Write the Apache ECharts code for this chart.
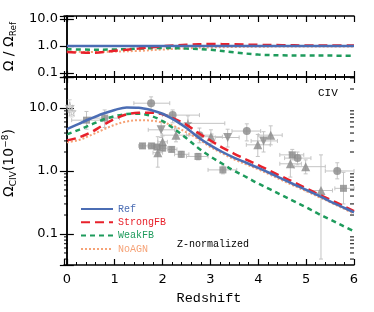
<!DOCTYPE html>
<html><head><meta charset="utf-8">
<script src="https://cdn.jsdelivr.net/npm/echarts@6/dist/echarts.min.js"></script>
<style>html,body{margin:0;padding:0;background:#fff}#c{width:374px;height:312px}</style>
</head><body><div id="c"></div>
<script>
// ---- model curves (main panel) ----
const zGrid = [0,0.25,0.5,0.75,1,1.25,1.5,1.75,2,2.25,2.5,2.75,3,3.25,3.5,3.75,4,4.25,4.5,4.75,5,5.25,5.5,5.75,6];
const refVals    = [4.6,5.6,6.8,8.1,9.3,10.2,10.1,9.3,8.1,6.4,4.8,3.4,2.55,2.0,1.62,1.35,1.12,0.92,0.75,0.61,0.5,0.41,0.33,0.27,0.22];
const strongVals = [3.05,3.4,4.1,5.3,6.7,7.9,8.4,8.4,7.9,6.7,5.4,4.0,3.05,2.35,1.87,1.52,1.24,1.0,0.81,0.66,0.53,0.43,0.35,0.285,0.23];
const weakVals   = [3.8,4.5,5.4,6.5,7.4,8.0,8.1,7.5,6.2,4.6,3.3,2.3,1.7,1.3,1.0,0.8,0.63,0.51,0.41,0.33,0.265,0.21,0.17,0.137,0.11];
const noagnVals  = [2.85,3.1,3.7,4.5,5.4,6.1,6.4,6.3,5.9,5.1,4.1,3.2,2.4,1.9,1.52,1.27,1.06,0.87,0.71,0.58,0.48,0.39,0.32,0.26,0.21];
// ---- ratio curves (top panel) ----
const ratioZ      = [0,0.5,1,1.5,2,2.5,3,3.5,4,4.5,5,5.5,6];
const ratioRef    = [1,1,1,1,1,1,1,1,1,1,1,1,1];
const ratioStrong = [0.6,0.56,0.66,0.8,0.98,1.1,1.18,1.15,1.1,1.07,1.05,1.05,1.05];
const ratioWeak   = [0.76,0.73,0.74,0.8,0.85,0.8,0.72,0.58,0.48,0.45,0.44,0.44,0.43];
const ratioNoAGN  = [0.62,0.6,0.62,0.66,0.74,0.82,0.88,0.92,0.94,0.95,0.95,0.95,0.95];
// ---- observations: [z, value, zLow, zHigh, vLow, vHigh] ----
const obsCircle = [
  [1.76,11.9,1.4,2.15,9.3,15],
  [2.21,7.7,2.0,2.77,5.8,9.3],
  [2.77,3.7,2.5,3.05,2.8,4.8],
  [3.76,4.3,3.45,4.05,3.0,5.6],
  [4.82,1.6,4.55,5.1,1.25,2.0],
  [5.65,1.0,5.4,6.0,0.75,1.35]
];
const obsSquare = [
  [0.41,6.4,0.1,0.75,4.6,8.8],
  [0.79,6.9,0.5,1.1,4.9,9.3],
  [1.58,2.5,1.5,1.7,2.3,2.7],
  [1.77,2.5,1.7,1.85,2.3,2.7],
  [1.88,2.4,1.8,1.95,2.2,2.6],
  [2.0,2.3,1.95,2.1,2.1,2.5],
  [2.19,2.2,2.1,2.3,2.0,2.4],
  [2.39,1.84,2.25,2.55,1.65,2.05],
  [2.74,1.7,2.5,2.95,1.5,1.9],
  [3.26,1.04,2.95,3.55,0.9,1.2],
  [4.71,1.8,4.45,4.95,1.5,2.2],
  [5.78,0.53,5.6,6.0,0.3,0.95]
];
const obsTriUp = [
  [1.9,1.95,1.8,2.0,1.15,3.5],
  [2.0,2.9,1.9,2.1,2.3,3.6],
  [2.28,3.7,2.0,2.55,2.9,4.8],
  [3.01,3.5,2.8,3.25,2.7,4.5],
  [3.99,2.6,3.75,4.25,1.7,3.8],
  [4.26,3.7,4.0,4.5,2.6,5.2],
  [4.67,1.3,4.45,4.9,0.8,2.0],
  [4.99,1.17,4.75,5.4,0.9,1.5],
  [5.31,0.49,5.0,5.55,0.04,1.8]
];
const obsTriDown = [
  [1.97,4.5,1.7,2.25,3.4,6.0],
  [3.36,3.4,3.1,3.6,2.4,4.6],
  [4.11,3.0,3.85,4.4,2.0,4.2]
];
const obsStar = [
  [2.53,5.7,2.35,3.3,4.4,7.5]
];
const obsOpenStar = [
  [0.06,10.5,0.0,0.12,8.5,13.5],
  [0.1,8.7,0.05,0.15,7.2,10.5]
];
// ---- axis decorations ----
const xTickLabels = ['0','1','2','3','4','5','6'];
const mainMinorTicks = [0.04,0.05,0.06,0.07,0.08,0.09,0.2,0.3,0.4,0.5,0.6,0.7,0.8,0.9,2,3,4,5,6,7,8,9,20,30];

const zip = (xs, ys) => xs.map((x, i) => [x, ys[i]]);
const C = {ref:'#4b6db4', strong:'#e8212b', weak:'#1e9b5c', noagn:'#f6a276'};
const sans = 'DejaVu Sans';
const mono = 'Liberation Mono';

function logLabel(v){
  const l = Math.log10(v);
  if (Math.abs(l - Math.round(l)) > 1e-6) return '';
  return v.toFixed(1);
}
function xLabel(v){
  const r = Math.round(v);
  if (Math.abs(v - r) > 1e-6) return '';
  return xTickLabels[r] !== undefined ? xTickLabels[r] : '';
}
const axLine = {show:true, lineStyle:{color:'#000', width:1.5}};
function xAx(grid, pos, labels){
  return {
    type:'value', gridIndex:grid, position:pos, min:-0.06, max:6, splitNumber:6,
    axisLine:axLine,
    axisTick:{show:true, inside:true, length:6, lineStyle:{color:'#000', width:1.2}},
    minorTick:{show:true, splitNumber:5, length:3, lineStyle:{color:'#000', width:1}},
    splitLine:{show:false},
    axisLabel:{show:labels, formatter:xLabel, fontFamily:sans, fontSize:13, color:'#000', margin:8}
  };
}
function yAx(grid, pos, labels, min, max, extra){
  return Object.assign({
    type:'log', logBase:10, gridIndex:grid, position:pos, min:min, max:max,
    axisLine:axLine,
    axisTick:{show:true, inside:true, length:7, lineStyle:{color:'#000', width:1.2}},
    splitLine:{show:false},
    axisLabel:{show:labels, formatter:logLabel, fontFamily:sans, fontSize:13, color:'#000', margin:6}
  }, extra || {});
}

const allObs = [].concat(obsCircle, obsSquare, obsTriUp, obsTriDown, obsStar);
function errRender(color){
  return function(params, api){
    const z = api.value(0), v = api.value(1);
    const l = api.coord([api.value(2), v]), r = api.coord([api.value(3), v]);
    const b = api.coord([z, api.value(4)]), t = api.coord([z, api.value(5)]);
    const cap = 2;
    const st = {stroke:color, lineWidth:1};
    const ln = (x1,y1,x2,y2) => ({type:'line', shape:{x1,y1,x2,y2}, style:st});
    return {type:'group', children:[
      ln(l[0],l[1],r[0],r[1]), ln(b[0],b[1],t[0],t[1]),
      ln(l[0],l[1]-cap,l[0],l[1]+cap), ln(r[0],r[1]-cap,r[0],r[1]+cap),
      ln(b[0]-cap,b[1],b[0]+cap,b[1]), ln(t[0]-cap,t[1],t[0]+cap,t[1])
    ]};
  };
}
const starPath = 'path://M50,0 L61,35 L98,35 L68,57 L79,91 L50,70 L21,91 L32,57 L2,35 L39,35 Z';
const gray = '#8a8a8a';
function scat(name, data, symbol, size, extra){
  return Object.assign({
    name:name, type:'scatter', xAxisIndex:2, yAxisIndex:2, symbol:symbol, symbolSize:size,
    itemStyle:{color:gray}, data:data.map(d => [d[0], d[1]]), z:3, silent:true
  }, extra || {});
}
function line(name, xs, ys, color, type, width, xi, yi){
  return {name:name, type:'line', xAxisIndex:xi, yAxisIndex:yi, data:zip(xs, ys), smooth:0.35,
    showSymbol:false, symbol:'none', lineStyle:{color:color, type:type, width:width}, itemStyle:{color:color}, z:5, silent:true};
}

const chart = echarts.init(document.getElementById('c'), null, {renderer:'canvas'});
chart.setOption({
  animation:false,
  backgroundColor:'#fff',
  grid:[
    {left:64, right:20, top:16, height:61, outerBoundsMode:'none', containLabel:false},
    {left:64, right:20, top:77, height:188, outerBoundsMode:'none', containLabel:false}
  ],
  xAxis:[
    xAx(0,'bottom',false), xAx(0,'top',false),
    Object.assign(xAx(1,'bottom',true), {name:'Redshift', nameLocation:'middle', nameGap:26,
      nameTextStyle:{fontFamily:mono, fontSize:13.5, color:'#000'}}),
    xAx(1,'top',false)
  ],
  yAxis:[
    yAx(0,'left',true,0.071,12.9,{name:'{a|Ω / Ω}{s|Ref}', nameLocation:'middle', nameGap:46,
      nameTextStyle:{rich:{a:{fontFamily:sans, fontSize:14, color:'#000'}, s:{fontFamily:sans, fontSize:9, color:'#000', padding:[8,0,0,0]}}}}),
    yAx(0,'right',false,0.071,12.9),
    yAx(1,'left',true,0.0322,31,{name:'{a|Ω}{s|CIV}{a|(10}{p|−8}{a|)}', nameLocation:'middle', nameGap:46,
      nameTextStyle:{padding:[0,0,0,16], rich:{a:{fontFamily:sans, fontSize:14, color:'#000'}, s:{fontFamily:sans, fontSize:9, color:'#000', padding:[8,0,0,0]}, p:{fontFamily:sans, fontSize:9, color:'#000', padding:[0,0,8,0]}}}}),
    yAx(1,'right',false,0.0322,31)
  ],
  legend:{
    orient:'vertical', left:75, top:199, itemWidth:32, itemHeight:10, itemGap:3.3,
    data:[
      {name:'Ref', textStyle:{color:C.ref}},
      {name:'StrongFB', textStyle:{color:C.strong}},
      {name:'WeakFB', textStyle:{color:C.weak}},
      {name:'NoAGN', textStyle:{color:C.noagn}}
    ],
    itemStyle:{opacity:0},
    textStyle:{fontFamily:mono, fontSize:10}, selectedMode:false
  },
  graphic:[
    {type:'text', left:318, top:88, style:{text:'CIV', font:'11px "Liberation Mono"', fill:'#000'}},
    {type:'text', left:177, top:239, style:{text:'Z-normalized', font:'10px "Liberation Mono"', fill:'#000'}}
  ],
  series:[
    {type:'custom', xAxisIndex:2, yAxisIndex:2, silent:true, z:6, clip:false,
      data:mainMinorTicks.map(v => [0, v]),
      renderItem:function(params, api){
        const y = api.coord([0, api.value(1)])[1];
        const xl = api.coord([-0.06, 1])[0], xr = api.coord([6, 1])[0];
        const st = {stroke:'#000', lineWidth:1};
        return {type:'group', children:[
          {type:'line', shape:{x1:xl, y1:y, x2:xl+4, y2:y}, style:st},
          {type:'line', shape:{x1:xr-4, y1:y, x2:xr, y2:y}, style:st}
        ]};
      }},
    {type:'custom', xAxisIndex:2, yAxisIndex:2, silent:true, z:2, data:allObs, renderItem:errRender('#c4c4c4')},
    {type:'custom', xAxisIndex:2, yAxisIndex:2, silent:true, z:2, data:obsOpenStar, renderItem:errRender('#d6d6d6')},
    scat('obsCircle', obsCircle, 'circle', 8),
    scat('obsSquare', obsSquare, 'rect', 7),
    scat('obsTriUp', obsTriUp, 'triangle', 9),
    scat('obsTriDown', obsTriDown, 'triangle', 9, {symbolRotate:180}),
    scat('obsStar', obsStar, starPath, 9),
    scat('obsOpenStar', obsOpenStar, starPath, 9, {itemStyle:{color:'rgba(255,255,255,0)', borderColor:'#b5b5b5', borderWidth:1}}),
    line('NoAGN', zGrid, noagnVals, C.noagn, [2,2], 2, 2, 2),
    line('WeakFB', zGrid, weakVals, C.weak, [5,4], 2.5, 2, 2),
    line('StrongFB', zGrid, strongVals, C.strong, [9,5], 2.5, 2, 2),
    line('Ref', zGrid, refVals, C.ref, 'solid', 2.5, 2, 2),
    line('NoAGN', ratioZ, ratioNoAGN, C.noagn, [2,2], 2, 0, 0),
    line('WeakFB', ratioZ, ratioWeak, C.weak, [5,4], 2.5, 0, 0),
    line('StrongFB', ratioZ, ratioStrong, C.strong, [9,5], 2.5, 0, 0),
    line('Ref', ratioZ, ratioRef, C.ref, 'solid', 2.5, 0, 0)
  ]
});
</script></body></html>
